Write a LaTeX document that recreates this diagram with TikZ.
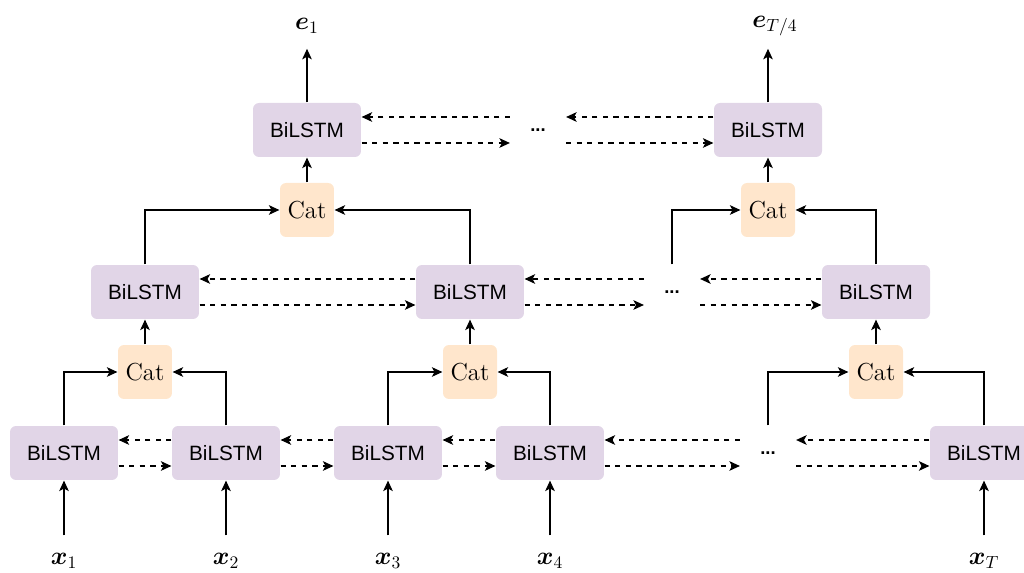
\documentclass[tikz,border=0pt]{standalone}
\usepackage{bm}
\usepackage{fontspec}
\newfontfamily\boxfont{Liberation Sans}
\usetikzlibrary{arrows.meta}
\definecolor{lstmpurple}{HTML}{E1D5E7}
\definecolor{catorange}{HTML}{FFE6CC}
\tikzset{
  bilstm/.style={fill=lstmpurple,rounded corners=0.12cm,minimum width=2.16cm,minimum height=1.08cm,inner sep=0pt,font=\boxfont\fontsize{11.8}{14}\selectfont},
  catbox/.style={fill=catorange,rounded corners=0.12cm,minimum width=1.08cm,minimum height=1.08cm,inner sep=0pt,font=\fontsize{14}{16}\selectfont},
  gap/.style={minimum width=1.1cm,minimum height=1.08cm,inner sep=0pt,font=\boxfont\bfseries\fontsize{10.5}{12}\selectfont},
  lbl/.style={inner sep=0pt,font=\fontsize{13.8}{16}\selectfont},
  rec/.style={->,dash pattern=on 3pt off 3pt}
}
\begin{document}
\begin{tikzpicture}[x=0.02cm,y=-0.02cm,line width=0.7pt,>={Stealth[length=6pt,width=5.5pt,inset=1.5pt]}]
\useasboundingbox (0,0) rectangle (1024,573);
% first layer
\node[bilstm] (L0a) at (64,453) {BiLSTM};
\node[bilstm] (L0b) at (226,453) {BiLSTM};
\node[bilstm] (L0c) at (388,453) {BiLSTM};
\node[bilstm] (L0d) at (550,453) {BiLSTM};
\node[gap] (d0) at (768,453) {...};
\node[bilstm] (L0e) at (984,453) {BiLSTM};
\node[lbl] (x1) at (64,561) {$\bm{x}_1$};
\node[lbl] (x2) at (226,561) {$\bm{x}_2$};
\node[lbl] (x3) at (388,561) {$\bm{x}_3$};
\node[lbl] (x4) at (550,561) {$\bm{x}_4$};
\node[lbl] (xT) at (984,561) {$\bm{x}_T$};
\foreach \a/\b in {x1/L0a,x2/L0b,x3/L0c,x4/L0d,xT/L0e}
  \draw[->,shorten <=10pt] (\a) -- (\b);
\foreach \a/\b in {L0a/L0b,L0b/L0c,L0c/L0d,L0d/d0,d0/L0e}{
  \draw[rec] ([yshift=-0.26cm]\a.east) -- ([yshift=-0.26cm]\b.west);
  \draw[rec] ([yshift=0.26cm]\b.west) -- ([yshift=0.26cm]\a.east);
}
% second layer
\node[catbox] (C1a) at (145,372) {Cat};
\node[catbox] (C1b) at (470,372) {Cat};
\node[catbox] (C1c) at (876,372) {Cat};
\draw[->] (L0a.north) |- (C1a.west);
\draw[->] (L0b.north) |- (C1a.east);
\draw[->] (L0c.north) |- (C1b.west);
\draw[->] (L0d.north) |- (C1b.east);
\draw[->] (d0.north) |- (C1c.west);
\draw[->] (L0e.north) |- (C1c.east);
\node[bilstm] (L1a) at (145,292) {BiLSTM};
\node[bilstm] (L1b) at (470,292) {BiLSTM};
\node[gap] (d1) at (672,292) {...};
\node[bilstm] (L1c) at (876,292) {BiLSTM};
\foreach \a/\b in {C1a/L1a,C1b/L1b,C1c/L1c}
  \draw[->] (\a) -- (\b);
\foreach \a/\b in {L1a/L1b,L1b/d1,d1/L1c}{
  \draw[rec] ([yshift=-0.26cm]\a.east) -- ([yshift=-0.26cm]\b.west);
  \draw[rec] ([yshift=0.26cm]\b.west) -- ([yshift=0.26cm]\a.east);
}
% third layer
\node[catbox] (C2a) at (307,210) {Cat};
\node[catbox] (C2b) at (768,210) {Cat};
\draw[->] (L1a.north) |- (C2a.west);
\draw[->] (L1b.north) |- (C2a.east);
\draw[->] (d1.north) |- (C2b.west);
\draw[->] (L1c.north) |- (C2b.east);
\node[bilstm] (L2a) at (307,130) {BiLSTM};
\node[gap] (d2) at (538,130) {...};
\node[bilstm] (L2b) at (768,130) {BiLSTM};
\draw[->] (C2a) -- (L2a);
\draw[->] (C2b) -- (L2b);
\foreach \a/\b in {L2a/d2,d2/L2b}{
  \draw[rec] ([yshift=-0.26cm]\a.east) -- ([yshift=-0.26cm]\b.west);
  \draw[rec] ([yshift=0.26cm]\b.west) -- ([yshift=0.26cm]\a.east);
}
\node[lbl] (e1) at (307,26) {$\bm{e}_1$};
\node[lbl] (eT) at (775,26) {$\bm{e}_{T/4}$};
\draw[->,shorten >=13pt] (L2a) -- (L2a |- e1);
\draw[->,shorten >=13pt] (L2b) -- (L2b |- eT);
\end{tikzpicture}
\end{document}
